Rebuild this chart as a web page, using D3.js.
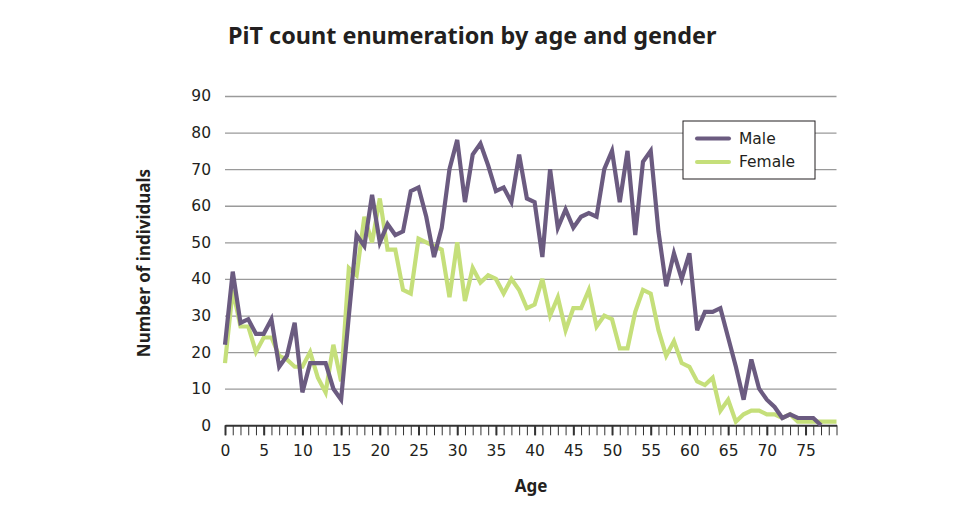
<!DOCTYPE html>
<html>
<head>
<meta charset="utf-8">
<script src="https://cdn.jsdelivr.net/npm/d3@7"></script>
<style>
  body { margin: 0; background: #fff; }
  svg text { font-family: "DejaVu Sans", sans-serif; fill: #231f20; }
  svg text.bold { font-family: "Noto Sans", sans-serif; font-weight: bold; }
</style>
</head>
<body>
<svg id="chart" width="975" height="519"></svg>
<script>
// ages 0..79
const ages = d3.range(0, 80);
const male = [22,42,28,29,25,25,29,16,19,28, 9,17,17,17,10,7,30,52,49,63,
  50,55,52,53,64,65,57,46,54,70, 78,61,74,77,71,64,65,61,74,62,
  61,46,70,54,59,54,57,58,57,70, 75,61,75,52,72,75,53,38,47,40,
  47,26,31,31,32,24,16,7,18,10, 7,5,2,3,2,2,2,0,null,null];
const female = [17,37,27,27,20,24,24,19,18,16, 16,20,13,9,22,12,43,41,57,50,
  62,48,48,37,36,51,50,49,48,35, 50,34,43,39,41,40,36,40,37,32,
  33,40,30,35,26,32,32,37,27,30, 29,21,21,31,37,36,26,19,23,17,
  16,12,11,13,4,7,1,3,4,4, 3,3,2,3,1,1,1,1,1,1];
const yTicks = [0,10,20,30,40,50,60,70,80,90];
const xLabels = d3.range(0, 80, 5);
const seriesNames = ["Male", "Female"];
const colors = ["#6b5b80", "#c5df7a"];

const svg = d3.select("#chart");
const mLeft = 225, mRight = 836.5, mTop = 96, mBottom = 425.3;

const x = d3.scaleLinear().domain([0, 79]).range([mLeft, mRight]);
const y = d3.scaleLinear().domain([0, 90]).range([mBottom, mTop]);

// gridlines
const grid = svg.append("g").attr("transform", `translate(${mLeft},0)`)
  .call(d3.axisLeft(y).tickValues(yTicks.slice(1)).tickSize(-(mRight - mLeft)).tickFormat(""));
grid.select(".domain").remove();
grid.selectAll("line").attr("stroke", "#9a9a9a").attr("stroke-width", 1.3);

// y labels
const yAx = svg.append("g").attr("transform", `translate(${mLeft},0)`)
  .call(d3.axisLeft(y).tickValues(yTicks).tickSize(0).tickPadding(14));
yAx.select(".domain").remove();
yAx.selectAll("text").attr("font-size", 15.5).attr("font-family", null).attr("fill", "#231f20");

// x minor ticks
const xMinor = svg.append("g").attr("transform", `translate(0,${mBottom})`)
  .call(d3.axisBottom(x).tickValues(ages).tickSize(10).tickFormat(""));
xMinor.select(".domain").remove();
xMinor.selectAll("line").attr("stroke", "#333").attr("stroke-width", 1);

// x major ticks + labels
const xAx = svg.append("g").attr("transform", `translate(0,${mBottom})`)
  .call(d3.axisBottom(x).tickValues(xLabels).tickSize(10).tickPadding(10).tickSizeOuter(0));
xAx.select(".domain").attr("stroke", "#333").attr("stroke-width", 2);
xAx.selectAll("line").attr("stroke", "#333").attr("stroke-width", 2);
xAx.selectAll("text").attr("font-size", 15.5).attr("font-family", null).attr("fill", "#231f20");

// lines
const line = d3.line()
  .defined(d => d != null)
  .x((d, i) => x(ages[i]))
  .y(d => y(d));

[female, male].forEach((vals, k) => {
  svg.append("path")
    .datum(vals)
    .attr("fill", "none")
    .attr("stroke", k === 0 ? colors[1] : colors[0])
    .attr("stroke-width", 4.2)
    .attr("stroke-linejoin", "miter")
    .attr("d", line);
});

// title
svg.append("text").attr("class", "bold").attr("x", 228).attr("y", 43.5)
  .attr("font-size", 23.4).text("PiT count enumeration by age and gender");

// axis titles
svg.append("text").attr("class", "bold").attr("x", 531).attr("y", 492).attr("text-anchor", "middle")
  .attr("font-size", 17).text("Age");
svg.append("text").attr("class", "bold").attr("transform", "translate(150,263) rotate(-90)").attr("text-anchor", "middle")
  .attr("font-size", 17).text("Number of individuals");

// legend
const lg = svg.append("g").attr("transform", "translate(683,121)");
lg.append("rect").attr("width", 132).attr("height", 58)
  .attr("fill", "#fff").attr("stroke", "#231f20").attr("stroke-width", 1);
seriesNames.forEach((name, i) => {
  const yy = 17.5 + i * 23.5;
  lg.append("line").attr("x1", 14).attr("x2", 46).attr("y1", yy).attr("y2", yy)
    .attr("stroke", colors[i]).attr("stroke-width", 4).attr("stroke-linecap", "round");
  lg.append("text").attr("x", 56).attr("y", yy).attr("dy", "0.35em")
    .attr("font-size", 15.5).text(name);
});
</script>
</body>
</html>
